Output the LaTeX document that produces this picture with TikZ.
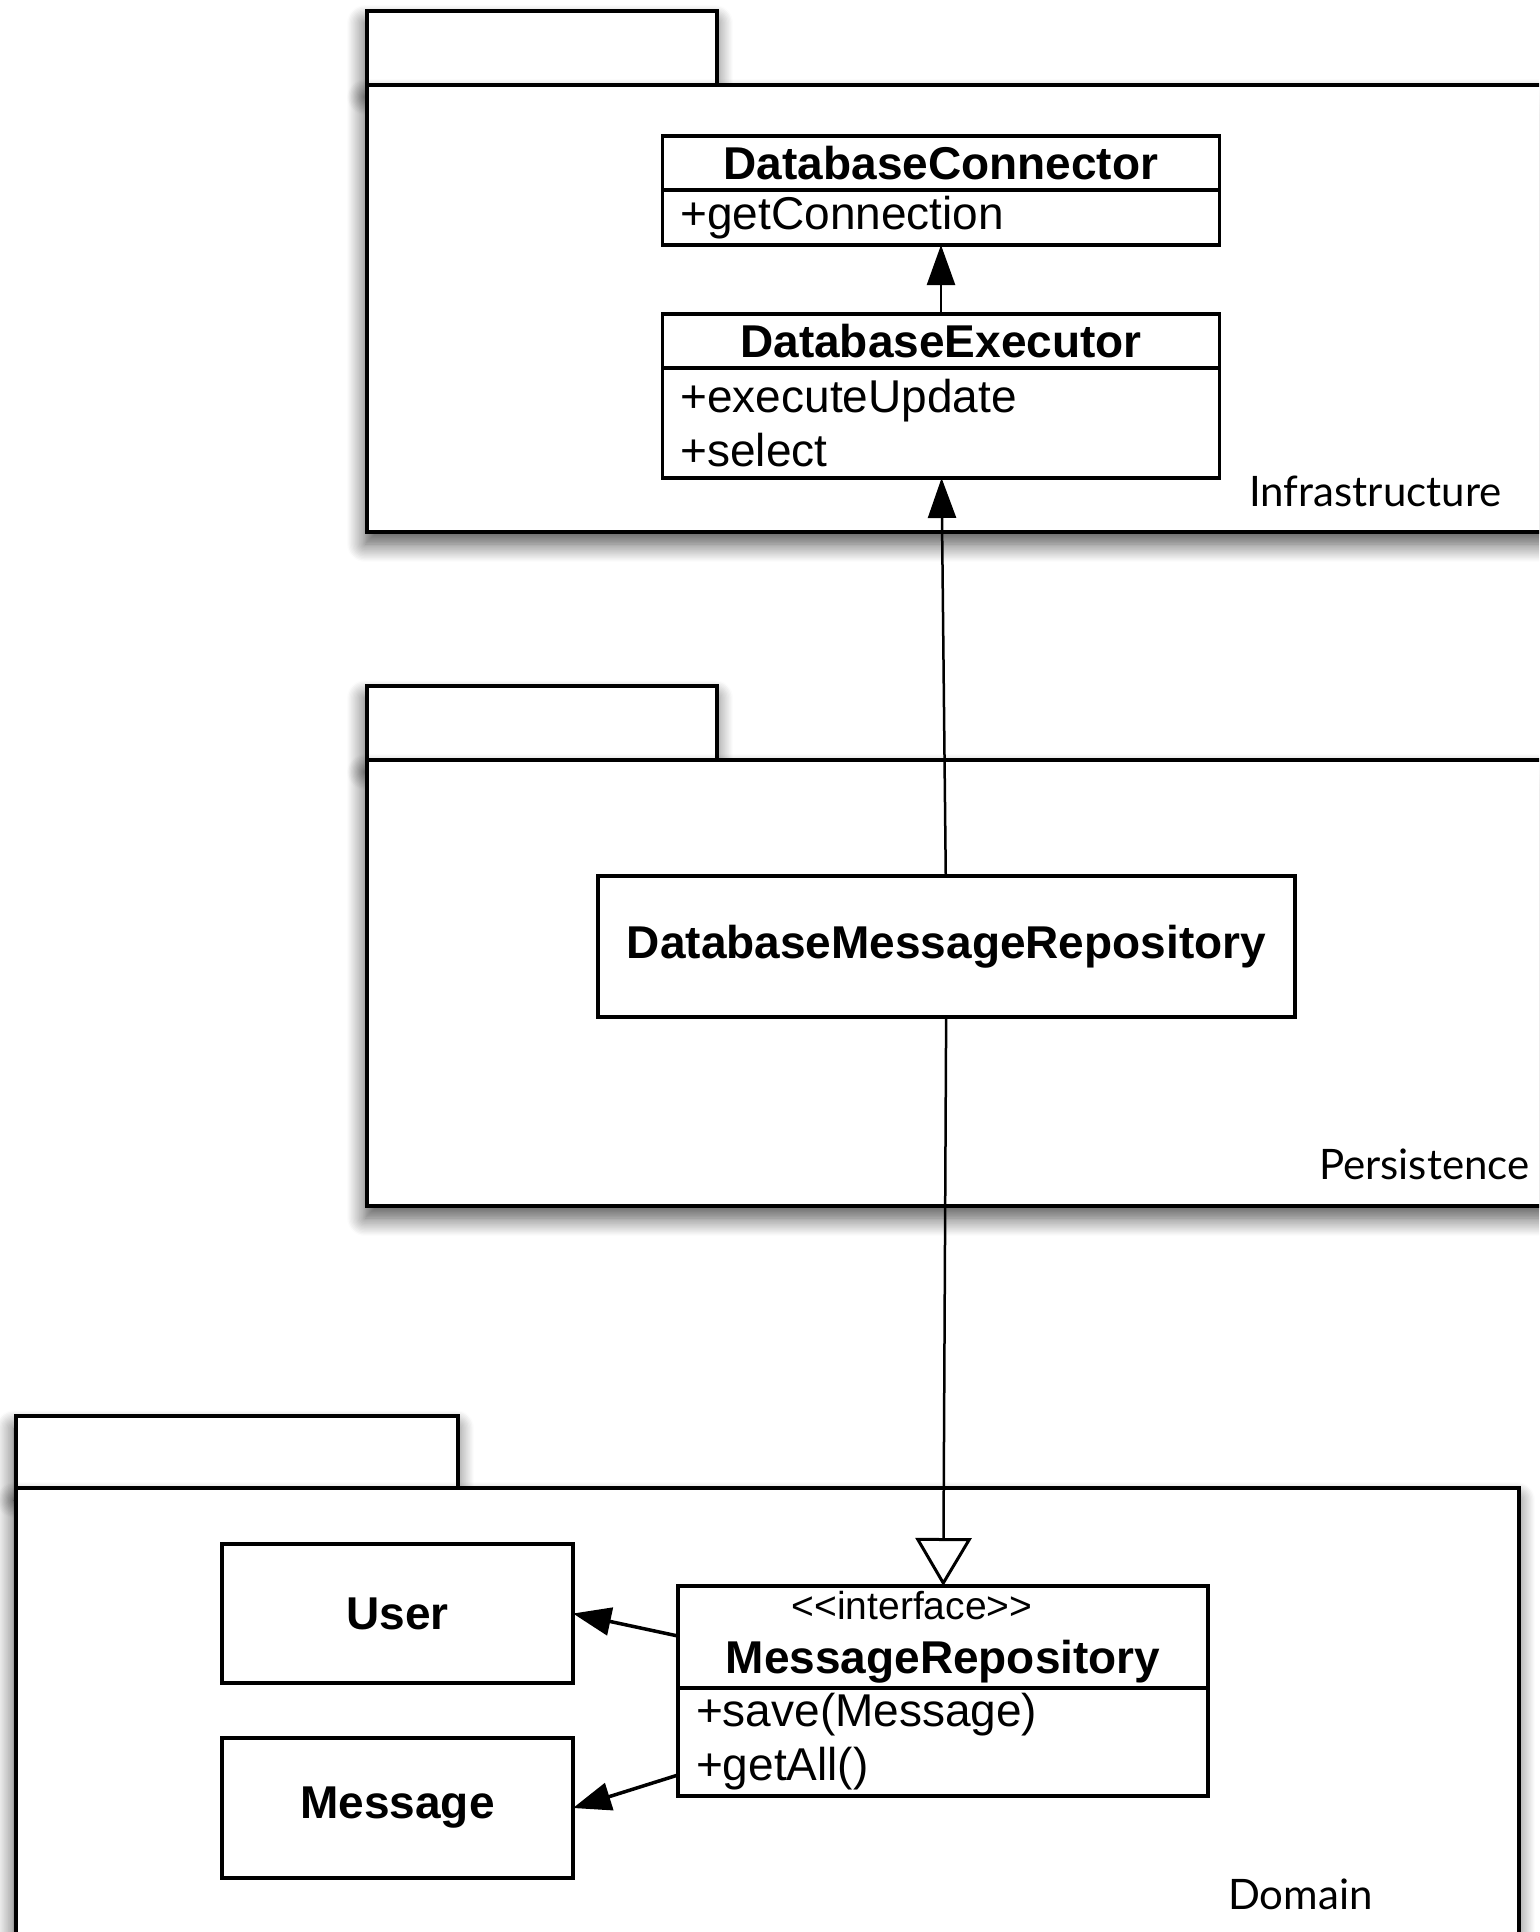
\documentclass[tikz,border=0pt]{standalone}
\usepackage{fontspec}
\setmainfont{Liberation Sans}
\newfontfamily\pkgfont{Lato}
\usetikzlibrary{arrows.meta, positioning, shadows.blur}

\tikzset{
  pkg/.style={draw, line width=4.5pt, fill=white,
    blur shadow={shadow xshift=-2pt, shadow yshift=-12pt, shadow blur radius=18pt, shadow blur steps=14, shadow opacity=70}},
  pkglabel/.style={anchor=base east, font=\pkgfont\fontsize{42}{50}\selectfont},
  classhead/.style={draw, line width=3.5pt, fill=white, inner sep=0pt, outer sep=0pt, align=center, font=\bfseries\fontsize{46}{54}\selectfont},
  classbody/.style={draw, line width=3.5pt, fill=white, inner xsep=18pt, inner ysep=0pt, outer sep=0pt, align=left, font=\fontsize{46}{54}\selectfont},
  dep/.style={line width=2.5pt, -{Triangle[length=40pt, width=28pt]}},
  uses/.style={line width=3.5pt, -{Triangle[length=38pt, width=28pt]}},
  real/.style={line width=2.5pt, -{Triangle[open, length=48pt, width=56pt, line width=3pt]}}
}

\begin{document}
\begin{tikzpicture}[x=1pt, y=-1pt]

    \clip (0,0) rectangle (1539,1932);

    % Infrastructure package
    \node[pkg, minimum width=350pt, minimum height=74pt] at (542,48) (infraTab) {};
    \node[pkg, minimum width=1193pt, minimum height=447pt] at (963.5,308.5) (infra) {};
    \node[pkglabel] at (1505,506) (infraText) {Infrastructure};

    % Database connector and executor
    \node[classhead, minimum width=557pt, minimum height=54pt] at (941,163) (conn) {DatabaseConnector};
    \node[classbody, below=0pt of conn, text width=521pt, minimum height=55pt] (connOps) {+getConnection};
    \node[classhead, minimum width=557pt, minimum height=54pt] at (941,341) (exec) {DatabaseExecutor};
    \node[classbody, below=0pt of exec, text width=521pt, minimum height=110pt] (execOps) {+executeUpdate\\+select};

    \draw[dep] (exec) -- (connOps);

    % Persistence package
    \node[pkg, minimum width=350pt, minimum height=74pt] at (542,723) (persTab) {};
    \node[pkg, minimum width=1193pt, minimum height=446pt] at (963.5,983) (pers) {};
    \node[pkglabel] at (1533,1179) (persText) {Persistence};

    \node[classhead, minimum width=697pt, minimum height=141pt] at (946.5,946.5) (dmr) {DatabaseMessageRepository};

    \draw[dep] (dmr) -- (execOps);

    % Domain package
    \node[pkg, minimum width=442pt, minimum height=72pt] at (237,1452) (domTab) {};
    \node[pkg, minimum width=1503pt, minimum height=462pt] at (767.5,1719) (dom) {};
    \node[pkglabel] at (1376,1909) (domText) {Domain};

    \node[classhead, minimum width=351pt, minimum height=139pt] at (397.5,1613.5) (user) {User};
    \node[classhead, minimum width=351pt, minimum height=140pt] at (397.5,1808) (message) {Message};

    % Repository interface
    \node[classhead, minimum width=530pt, minimum height=102pt] at (943,1637) (repo)
        {{\mdseries\fontsize{39}{44}\selectfont \textless\kern0pt\textless interface\textgreater\kern0pt\textgreater\hspace*{62pt}}\\MessageRepository};
    \node[classbody, below=0pt of repo, text width=494pt, minimum height=108pt] (repoOps) {+save(Message)\\+getAll()};

    \draw[real] (dmr) -- (repo);

    \coordinate (repoU) at ([yshift=-50pt]repo.north west);
    \coordinate (repoM) at ([yshift=21pt]repoOps.south west);
    \draw[uses] (repoU) -- (user.east);
    \draw[uses] (repoM) -- (message.east);
\end{tikzpicture}
\end{document}
